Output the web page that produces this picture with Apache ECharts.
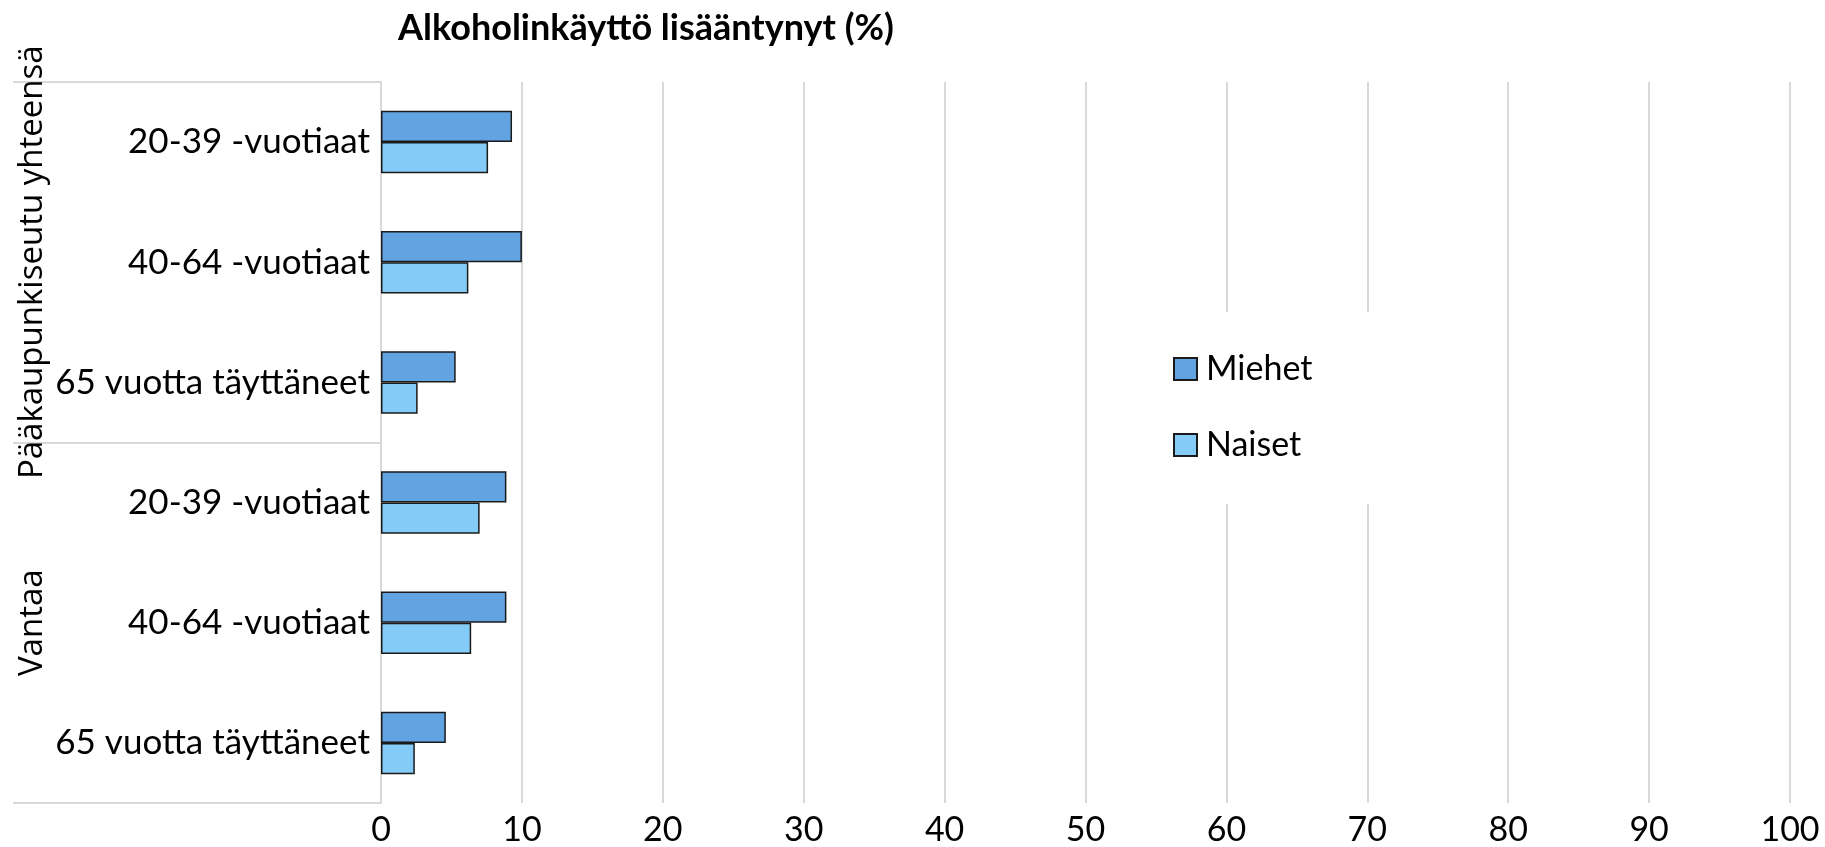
<!DOCTYPE html>
<html>
<head>
<meta charset="utf-8">
<script src="https://cdn.jsdelivr.net/npm/echarts@6/dist/echarts.min.js"></script>
<style>
    html, body { margin: 0; padding: 0; background: #fff; }
    #chart { width: 1825px; height: 847px; }
</style>
</head>
<body>
<div id="chart"></div>
<script>
const ageGroups = ['20-39 -vuotiaat', '40-64 -vuotiaat', '65 vuotta täyttäneet',
    '20-39 -vuotiaat', '40-64 -vuotiaat', '65 vuotta täyttäneet'];
const regions = ['Pääkaupunkiseutu yhteensä', 'Vantaa'];
const miehet = [9.3, 10.0, 5.3, 8.9, 8.9, 4.6];
const naiset = [7.6, 6.2, 2.6, 7.0, 6.4, 2.4];

const labelFont = 'Lato, "Open Sans", sans-serif';
const gridGray = '#d9d9d9';

var chart = echarts.init(document.getElementById('chart'));

var option = {
    animation: false,
    title: {
        text: 'Alkoholinkäyttö lisääntynyt (%)',
        left: 393,
        top: 5,
        textStyle: { fontFamily: labelFont, fontWeight: 'bold', fontSize: 36, color: '#000' }
    },
    legend: {
        orient: 'vertical',
        left: 1160,
        top: 312,
        padding: [40, 80, 42, 13],
        backgroundColor: '#fff',
        itemWidth: 23,
        itemHeight: 22,
        itemGap: 42,
        icon: 'rect',
        textStyle: { fontFamily: labelFont, fontSize: 34, color: '#000', padding: [0, 0, 0, 4] },
        data: ['Miehet', 'Naiset']
    },
    grid: { left: 381, right: 35, top: 82, bottom: 42, containLabel: false },
    xAxis: {
        type: 'value',
        min: 0,
        max: 100,
        interval: 10,
        axisLine: { show: false },
        axisTick: { show: false },
        splitLine: { lineStyle: { color: gridGray, width: 2 } },
        axisLabel: { fontFamily: labelFont, fontSize: 34, color: '#000', margin: 10 }
    },
    yAxis: [
        {
            type: 'category',
            data: ageGroups,
            inverse: true,
            axisLine: { lineStyle: { color: gridGray, width: 2 } },
            axisTick: { show: false },
            axisLabel: { fontFamily: labelFont, fontSize: 35, color: '#000', margin: 11, interval: 0 }
        },
        {
            // region level: ticks act as the separator lines
            type: 'category',
            data: regions,
            inverse: true,
            position: 'left',
            axisLine: { show: false },
            axisTick: { show: true, interval: 0, length: 368, lineStyle: { color: gridGray, width: 2 } },
            axisLabel: {
                interval: 0,
                hideOverlap: false,
                rotate: 90,
                margin: 332,
                fontFamily: '"Open Sans", sans-serif',
                fontSize: 33,
                color: '#000'
            }
        }
    ],
    series: [
        {
            name: 'Miehet',
            type: 'bar',
            yAxisIndex: 0,
            data: miehet,
            barGap: '0%',
            barCategoryGap: '48%',
            itemStyle: { color: '#62A3E2', borderColor: '#1a1a1a', borderWidth: 1.5 }
        },
        {
            name: 'Naiset',
            type: 'bar',
            yAxisIndex: 0,
            data: naiset,
            barGap: '0%',
            barCategoryGap: '48%',
            itemStyle: { color: '#84CCF7', borderColor: '#1a1a1a', borderWidth: 1.5 }
        }
    ]
};

chart.setOption(option);
</script>
</body>
</html>
